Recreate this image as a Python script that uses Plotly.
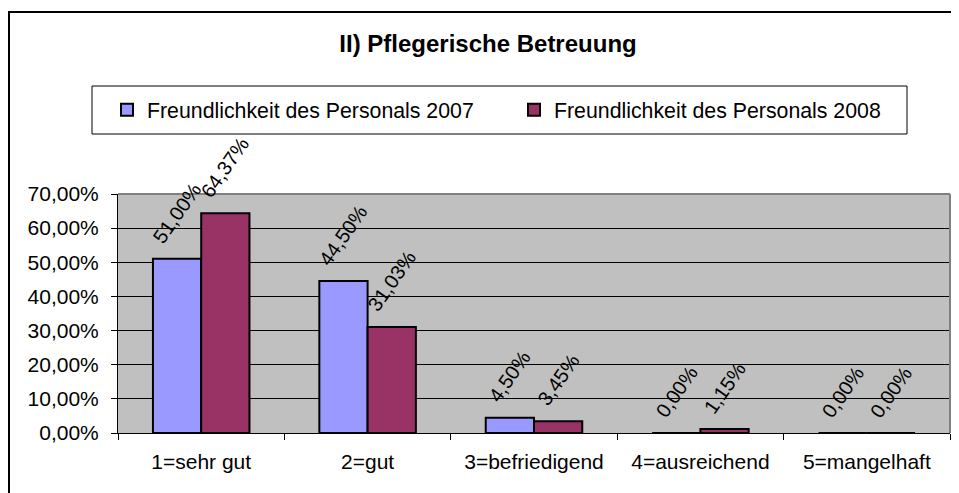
import plotly.graph_objects as go

categories = ["1=sehr gut", "2=gut", "3=befriedigend", "4=ausreichend", "5=mangelhaft"]
series_2007 = [0.51, 0.445, 0.045, 0.0, 0.0]
series_2008 = [0.6437, 0.3103, 0.0345, 0.0115, 0.0]
name_2007 = "Freundlichkeit des Personals 2007"
name_2008 = "Freundlichkeit des Personals 2008"
title_text = "II) Pflegerische Betreuung"
y_ticks = [0, 0.1, 0.2, 0.3, 0.4, 0.5, 0.6, 0.7]

FONT = "Liberation Sans, Arial, sans-serif"
OFF = 8  # page body margin
W, H = 959 - OFF, 493 - OFF
# plot area in screen pixels: x 118..950, y 194..433
L = 118 - OFF
R = W - (950 - OFF)
T = 194 - OFF
B = H - (433 - OFF)
PW, PH = W - L - R, H - T - B
BARGAP = 0.42

def px_x(sx):
    return (sx - OFF - L) / PW

def px_y(sy):
    return (H - B - (sy - OFF)) / PH

def fmt(v):
    return f"{v * 100:.2f}%".replace(".", ",")

fig = go.Figure()
series = [(name_2007, series_2007, "#9999FF"), (name_2008, series_2008, "#993366")]
for name, vals, color in series:
    fig.add_trace(go.Bar(
        x=categories, y=vals, name=name,
        marker=dict(color=color, line=dict(color="#000000", width=2)),
    ))

# rotated data labels above each bar
half = (1 - BARGAP) / 4
for k, (name, vals, color) in enumerate(series):
    off = -half if k == 0 else half
    for i, v in enumerate(vals):
        fig.add_annotation(x=i + off, y=v, xref="x", yref="y", text=fmt(v),
                           showarrow=False, textangle=-55, xanchor="center", yanchor="bottom",
                           yshift=9, font=dict(family=FONT, size=20, color="#000000"))

fig.update_layout(
    width=W, height=H,
    margin=dict(l=L, r=R, t=T, b=B),
    paper_bgcolor="white", plot_bgcolor="#C0C0C0",
    separators=",.",
    font=dict(family=FONT, size=20, color="#000000"),
    barmode="group", bargap=BARGAP, bargroupgap=0,
    showlegend=True,
    title=dict(text="<b>" + title_text + "</b>", x=(488 - OFF) / W, xanchor="center",
               y=1 - (44 - OFF) / H, yanchor="middle",
               font=dict(family=FONT, size=24, color="#000000")),
    legend=dict(orientation="h", x=px_x(107), xanchor="left", y=px_y(110), yanchor="middle",
                bgcolor="rgba(0,0,0,0)", borderwidth=0, font=dict(family=FONT, size=21.3),
                entrywidth=362, entrywidthmode="pixels", itemwidth=30, traceorder="normal"),
    xaxis=dict(type="category", showline=True, linecolor="#000000", linewidth=1,
               ticks="outside", ticklen=6, tickcolor="#000000", tickson="boundaries",
               showgrid=False, tickfont=dict(size=21), ticklabelstandoff=10),
    yaxis=dict(range=[0, 0.7], tickvals=y_ticks, tickformat=".2%", showline=True,
               linecolor="#000000", linewidth=1, ticks="outside", ticklen=6, tickcolor="#000000",
               showgrid=True, gridcolor="#000000", gridwidth=1, zeroline=False,
               tickfont=dict(size=21), ticklabelstandoff=8),
)

# plot area top/right border (gray)
fig.add_shape(type="line", xref="x domain", yref="y domain", x0=0, x1=1, y0=1, y1=1,
              line=dict(color="#808080", width=2), layer="above")
fig.add_shape(type="line", xref="x domain", yref="y domain", x0=1, x1=1, y0=0, y1=1,
              line=dict(color="#808080", width=2), layer="above")
# legend box
fig.add_shape(type="rect", xref="paper", yref="paper", x0=px_x(92), x1=px_x(907),
              y0=px_y(134), y1=px_y(86), line=dict(color="#000000", width=1),
              fillcolor="white", layer="below")
# outer chart frame
fig.add_shape(type="rect", xref="paper", yref="paper", x0=px_x(OFF + 1), x1=px_x(975),
              y0=px_y(510), y1=px_y(12), line=dict(color="#000000", width=2),
              fillcolor="rgba(0,0,0,0)", layer="above")

fig.write_html("out.html")
